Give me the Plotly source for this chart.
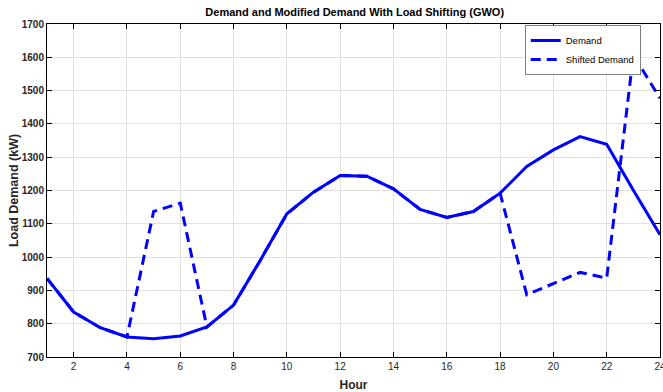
import plotly.graph_objects as go

hours = list(range(1, 25))
demand = [936, 835, 788, 760, 755, 763, 790, 856, 990, 1130, 1195, 1245,
          1243, 1205, 1143, 1119, 1137, 1192, 1272, 1322, 1362, 1339, 1201, 1067]
shifted = [936, 835, 788, 760, 1137, 1162, 790, 856, 990, 1130, 1195, 1245,
           1243, 1205, 1143, 1119, 1137, 1192, 887, 920, 954, 937, 1607, 1477]
x_ticks = list(range(2, 25, 2))

FONT = "Liberation Sans Narrow, Arial Narrow, Liberation Sans, Arial"
TXT = "#262626"

fig = go.Figure()
fig.add_trace(go.Scatter(x=hours, y=demand, mode="lines", name="Demand",
                         line=dict(color="#0000FF", width=3)))
fig.add_trace(go.Scatter(x=hours, y=shifted, mode="lines", name="Shifted Demand",
                         line=dict(color="#0000FF", width=3, dash="10px,6px")))

axis_common = dict(showline=True, linecolor="black", linewidth=1, mirror="ticks",
                   ticks="inside", ticklen=5, tickcolor="black",
                   showgrid=True, gridcolor="#E0E0E0", gridwidth=1, zeroline=False,
                   tickfont=dict(family=FONT, size=10, color=TXT),
                   tickprefix="<b>", ticksuffix="</b>", ticklabeloverflow="allow",
                   automargin=False)

fig.update_xaxes(range=[1, 24], tickvals=x_ticks, **axis_common,
                 title=dict(text="<b>Hour</b>", font=dict(family=FONT, size=12, color=TXT), standoff=9))
fig.update_yaxes(range=[700, 1700], dtick=100, **axis_common,
                 title=dict(text="<b>Load Demand (kW)</b>", font=dict(family=FONT, size=12.5, color=TXT), standoff=0))

fig.update_layout(
    width=663, height=392,
    margin=dict(l=47, r=3, t=24, b=35),
    paper_bgcolor="white", plot_bgcolor="white",
    title=dict(text="<b>Demand and Modified Demand With Load Shifting (GWO)</b>",
               x=0.535, xanchor="center", y=0.97, yanchor="middle",
               font=dict(family=FONT, size=11, color="black")),
    legend=dict(x=0.874, y=0.997, xanchor="center", yanchor="top",
                bgcolor="white", bordercolor="#7F7F7F", borderwidth=1,
                font=dict(family=FONT, size=9.5, color="black"),
                itemwidth=30, tracegroupgap=0),
    showlegend=True,
)

fig.write_html("out.html", config={"displayModeBar": False},
               post_script="document.body.style.margin='0';document.body.style.overflow='hidden';")
